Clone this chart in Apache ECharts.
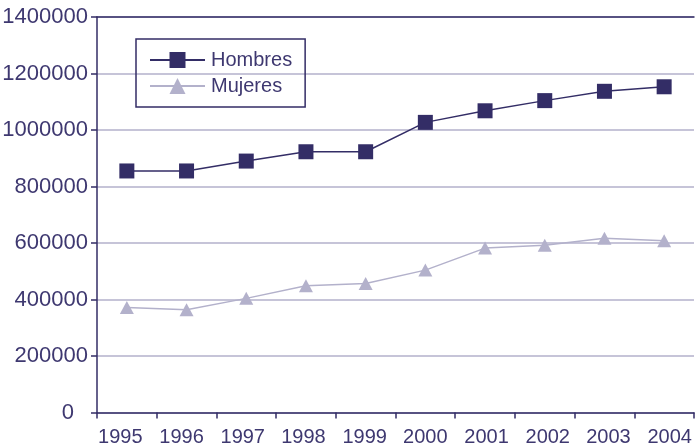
<!DOCTYPE html>
<html><head><meta charset="utf-8">
<script src="https://cdn.jsdelivr.net/npm/echarts@6/dist/echarts.min.js"></script>
<style>html,body{margin:0;padding:0;background:#fff}#c{width:695px;height:448px}</style>
</head><body><div id="c"></div>
<script>
var years = ['1995','1996','1997','1998','1999','2000','2001','2002','2003','2004'];
var hombres = [855000, 855000, 890000, 923000, 923000, 1027000, 1068000, 1104000, 1137000, 1153000];
var mujeres = [372000, 364000, 404000, 449000, 457000, 504000, 582000, 592000, 617000, 608000];
var yTicks = [0, 200000, 400000, 600000, 800000, 1000000, 1200000, 1400000];

var dark = '#332d66';
var light = '#b3b1cb';
var textCol = '#3e3870';
var font = 'Liberation Sans';

// x labels in the reference are spread slightly wider than the category pitch
var rich = {};
for (var i = 0; i < years.length; i++) {
  var d = -6.3 + 1.3 * i;
  var pad = d < 0 ? [0, Math.round(-2 * d), 0, 0] : [0, 0, 0, Math.round(2 * d)];
  rich['s' + i] = {fontFamily: font, fontSize: 20, color: textCol, padding: pad};
}

var chart = echarts.init(document.getElementById('c'), null, {renderer: 'canvas'});
chart.setOption({
  animation: false,
  grid: {left: 97, right: 1, top: 17, bottom: 35.5, containLabel: false, outerBoundsMode: 'none'},
  legend: {
    left: 136, top: 39, orient: 'vertical',
    padding: [11, 13, 11, 13],
    borderColor: dark, borderWidth: 1.5,
    itemWidth: 55, itemHeight: 20, itemGap: 6,
    textStyle: {fontFamily: font, fontSize: 20, color: textCol, padding: [0, 0, 0, 1]},
    data: ['Hombres', 'Mujeres']
  },
  xAxis: [{
    type: 'category', data: years, boundaryGap: true,
    axisLine: {lineStyle: {color: dark, width: 1.5}},
    axisTick: {show: true, interval: 0, length: 6, lineStyle: {color: dark, width: 1.5}},
    axisLabel: {
      interval: 0, hideOverlap: false,
      fontFamily: font, fontSize: 20, color: textCol, margin: 15,
      formatter: function (v, idx) { return '{s' + idx + '|' + v + '}'; },
      rich: rich
    }
  }, {
    type: 'category', data: years, position: 'top',
    axisLine: {show: true, lineStyle: {color: dark, width: 1.5}},
    axisTick: {show: false}, axisLabel: {show: false}
  }],
  yAxis: {
    type: 'value', min: yTicks[0], max: yTicks[yTicks.length - 1], interval: yTicks[1] - yTicks[0],
    axisLine: {show: true, lineStyle: {color: dark, width: 1.5}},
    axisTick: {show: true, length: 6, lineStyle: {color: dark, width: 1.5}},
    axisLabel: {
      fontFamily: font, fontSize: 22, color: textCol, margin: 9,
      formatter: function (v) { return v === 0 ? '{z|0}' : String(v); },
      rich: {z: {fontFamily: font, fontSize: 22, color: textCol, padding: [0, 14, 0, 0]}}
    },
    splitLine: {show: true, lineStyle: {color: light, width: 1.5}}
  },
  series: [{
    name: 'Hombres', type: 'line', data: hombres,
    symbol: 'rect', symbolSize: 15,
    lineStyle: {color: dark, width: 1.5},
    itemStyle: {color: dark}, z: 3
  }, {
    name: 'Mujeres', type: 'line', data: mujeres,
    symbol: 'triangle', symbolSize: [14, 13],
    lineStyle: {color: light, width: 1.5},
    itemStyle: {color: light}, z: 2
  }]
});
</script></body></html>
